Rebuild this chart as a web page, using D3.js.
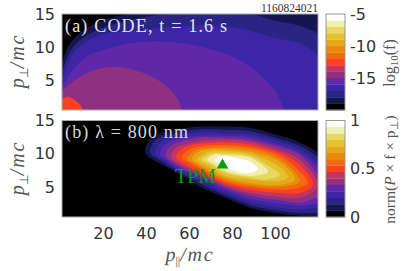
<!DOCTYPE html>
<html lang="en">
<head>
<meta charset="utf-8">
<script src="https://d3js.org/d3.v7.min.js"></script>
<style>
  html, body { margin: 0; padding: 0; background: #fff; overflow: hidden; }
  .tick text { font-family: "DejaVu Sans", sans-serif; font-size: 16px; fill: #333; }
  .lab { font-family: "Liberation Serif", serif; fill: #555; }
</style>
</head>
<body>
<svg id="fig" width="415" height="271"></svg>
<script>
// colour of each contour band, lowest band first
var bandColors = ["#000000", "#15154f", "#2a2585", "#3d25a8", "#5e28a8", "#8f3080", "#c23560",
  "#ff4020", "#f06a10", "#e88a0a", "#e5a818", "#e5c030", "#e6d860", "#f0eeb0", "#ffffff"];

var xTicks = [20, 40, 60, 80, 100];
var yTicks = [5, 10, 15];
var logTicks = [-15, -10, -5];
var normTicks = [0, 0.5, 1];

var stampText = "1160824021";
var titleA = "(a) CODE, t = 1.6 s";
var titleB = "(b) λ = 800 nm";
var tpmPoint = [75.6, 8.3];

// panel (a): contour lines [p_par, p_perp], each runs left edge -> right/bottom
var codeBands = [1, 2, 3, 4, 5, 7];
var codeLines = [
  [[1,7.6],[4.7,10.6],[12.6,12.9],[23.3,14.4],[31.2,15],[34.9,15.6],[122,15.6]],
  [[1,6.2],[6.1,10],[15.4,12.3],[26.6,13.6],[38.7,14.5],[49.8,15],[65.2,15.2],[83.8,15.2],[91.7,14.8],[98.6,14.1],[110.7,13.3],[118.6,12.3],[121.9,11.8]],
  [[1,5],[7,9.4],[17.7,11.7],[36.3,12.6],[59.6,13.2],[67.5,13.3],[82.8,12.9],[98.6,11.5],[114,10.3],[120,8.5],[121.9,7.7]],
  [[1,3.8],[5.6,6.4],[13.1,8.7],[21,9.6],[31.7,10.5],[44.2,10.9],[58.2,10.5],[67.5,9.9],[81.4,8.4],[92.1,6.1],[100,3.4],[104.2,0.5],[104.7,-0.1]],
  [[1,3.4],[7,5],[14.9,6.4],[25.6,7],[36.3,6.4],[47.5,4.6],[54.5,2.3],[56.8,0.5],[57.3,-0.1]],
  [[1,2.2],[3.8,2.5],[7,2],[9.4,1.3],[10.8,0.5],[11.2,0]]
];

// panel (b): closed contour outlines, outermost first, same order as bandColors[1..14]
var tpmLines = [
  [[39.6,10.4],[40.6,11.6],[43.3,12.6],[53.5,13.6],[65.2,14.1],[76.8,14.1],[88.4,13.9],[102.3,12.7],[111.6,11.7],[120,10.1],[126,8],[126,0.5],[120,0.5],[111.6,0.7],[102.3,1],[88.4,1.9],[76.8,3.4],[65.2,5],[53.5,7.3],[43.3,9.1],[40.6,9.7]],
  [[41.9,10.1],[43,11.4],[46,12.4],[53.5,13.1],[65.2,13.7],[76.8,13.6],[88.4,13.4],[102.3,12.2],[111.6,11.2],[120,9.4],[126,7],[126,0.9],[120,1.1],[111.6,1.1],[102.3,1.4],[88.4,2.3],[76.8,3.8],[65.2,5.5],[53.5,7.6],[46,9.1]],
  [[44.2,10],[45.5,11.2],[48,12],[53.5,12.6],[65.2,13.2],[76.8,13.1],[88.4,12.9],[102.3,11.8],[111.6,10.6],[120,8.6],[126,6],[126,1.5],[120,1.9],[111.6,1.6],[102.3,1.9],[88.4,2.8],[76.8,4.2],[65.2,5.9],[53.5,7.9],[48,9.1]],
  [[46.6,9.8],[48,11],[50,11.6],[53.5,12.1],[65.2,12.7],[76.8,12.7],[88.4,12.5],[102.3,11.3],[111.6,10.1],[120,7.9],[126,5.5],[126,2.2],[120,2.5],[111.6,2.2],[102.3,2.5],[88.4,3.2],[76.8,4.6],[65.2,6.4],[53.5,8.2],[50,9]],
  [[49.3,9.7],[50.5,10.8],[53.5,11.5],[65.2,12.4],[76.8,12.4],[88.4,12.1],[102.3,11],[111.6,9.8],[120,6.8],[124,4.5],[123,3],[120,3.4],[111.6,2.6],[102.3,3],[88.4,3.7],[76.8,4.9],[65.2,6.7],[53.5,8.5]],
  [[51.7,9.5],[53.5,10.8],[58,11.4],[65.2,11.9],[76.8,12.1],[88.4,11.8],[102.3,10.5],[111.6,9.1],[120,5.2],[111.6,3.4],[102.3,3.5],[88.4,4.1],[76.8,5.2],[65.2,7],[53.5,8.8]],
  [[54,9.5],[58,11],[65.2,11.5],[76.8,11.7],[88.4,11.4],[102.3,10.1],[111.6,8.3],[117.7,5.3],[111.6,4.1],[102.3,4.1],[88.4,4.6],[76.8,5.5],[65.2,7.3],[58,8.4]],
  [[56.8,9.4],[60,10.6],[65.2,11.1],[76.8,11.3],[88.4,11],[102.3,9.7],[111.6,7.3],[115.4,5.6],[111.6,4.9],[102.3,4.6],[88.4,5],[76.8,5.8],[65.2,7.7],[60,8.6]],
  [[59.1,9.2],[62,10.3],[65.2,10.7],[76.8,11],[88.4,10.7],[102.3,9.2],[111.6,5.9],[102.3,5],[88.4,5.3],[76.8,6.1],[65.2,8],[62,8.6]],
  [[61.4,9.2],[64,10.2],[70,10.7],[76.8,10.7],[88.4,10.3],[102.3,8.8],[109.3,6.1],[102.3,5.3],[88.4,5.6],[76.8,6.4],[65.2,8.3]],
  [[63.8,9.1],[70,10.4],[76.8,10.4],[88.4,10],[102.3,8],[106,6.5],[102.3,5.9],[88.4,6.1],[76.8,6.7],[68,8.3]],
  [[66.1,9.1],[71,10.1],[76.8,10.1],[88.4,9.7],[96,8.4],[102.3,6.8],[95,6.1],[88.4,6.4],[76.8,7.1],[70,8.4]],
  [[68.4,9.1],[72,9.9],[76.8,9.8],[88.4,9.4],[96.8,7.3],[88.4,6.7],[76.8,7.4],[72,8.4]],
  [[72.1,9.1],[75.8,9.7],[81.4,9.4],[88.4,8.8],[92.1,7.7],[87,7.1],[79.1,7.7],[74.5,8.5]]
];

var svg = d3.select("#fig");

var x = d3.scaleLinear().domain([1, 120]).range([62, 318]);
var yA = d3.scaleLinear().domain([0.5, 15]).range([110, 14]);
var yB = d3.scaleLinear().domain([0.5, 15]).range([217, 120.5]);

function drawFrame(y, id) {
  svg.append("clipPath").attr("id", id)
    .append("rect")
    .attr("x", x.range()[0]).attr("y", y.range()[1])
    .attr("width", x.range()[1] - x.range()[0])
    .attr("height", y.range()[0] - y.range()[1]);

  var g = svg.append("g").attr("clip-path", "url(#" + id + ")");
  g.append("rect")
    .attr("x", x.range()[0]).attr("y", y.range()[1])
    .attr("width", x.range()[1] - x.range()[0])
    .attr("height", y.range()[0] - y.range()[1])
    .attr("fill", bandColors[0]);
  return g;
}

// panel a
var gA = drawFrame(yA, "clipA");
var openLine = d3.line().x(function(d) { return x(d[0]); }).y(function(d) { return yA(d[1]); })
  .curve(d3.curveCatmullRom.alpha(0.5));

gA.selectAll("path").data(codeLines).enter().append("path")
  .attr("d", function(d) { return openLine(d) + "V" + (yA.range()[0] + 10) + "H" + x.range()[0] + "Z"; })
  .attr("fill", function(d, i) { return bandColors[codeBands[i]]; });

// panel b
var gB = drawFrame(yB, "clipB");
var closedLine = d3.line().x(function(d) { return x(d[0]); }).y(function(d) { return yB(d[1]); })
  .curve(d3.curveCatmullRomClosed.alpha(0.5));

gB.selectAll("path").data(tpmLines).enter().append("path")
  .attr("d", closedLine)
  .attr("fill", function(d, i) { return bandColors[i + 1]; });

// panel frames
[yA, yB].forEach(function(y) {
  svg.append("rect")
    .attr("x", x.range()[0]).attr("y", y.range()[1])
    .attr("width", x.range()[1] - x.range()[0])
    .attr("height", y.range()[0] - y.range()[1])
    .attr("fill", "none").attr("stroke", "#aaa").attr("stroke-width", 1);
});

// axes
function addAxis(axis, tx, ty) {
  var g = svg.append("g").attr("transform", "translate(" + tx + "," + ty + ")").call(axis);
  g.select(".domain").remove();
  g.selectAll("line").remove();
  return g;
}
addAxis(d3.axisLeft(yA).tickValues(yTicks).tickSize(0).tickPadding(7), 62, 0);
addAxis(d3.axisLeft(yB).tickValues(yTicks).tickSize(0).tickPadding(7), 62, 0);
addAxis(d3.axisBottom(x).tickValues(xTicks).tickSize(0).tickPadding(10.5), 0, 217);

// colour bars
var barX = 326, barW = 19;
function drawBar(y0, y1, domain, ticks) {
  var bands = d3.scaleBand().domain(d3.range(bandColors.length)).range([y0, y1]);
  svg.append("g").selectAll("rect").data(bandColors).enter().append("rect")
    .attr("x", barX).attr("y", function(d, i) { return bands(i); })
    .attr("width", barW).attr("height", bands.bandwidth() + 0.3)
    .attr("fill", function(d) { return d; });
  svg.append("rect").attr("x", barX).attr("y", y1).attr("width", barW).attr("height", y0 - y1)
    .attr("fill", "none").attr("stroke", "#999").attr("stroke-width", 1);
  var s = d3.scaleLinear().domain(domain).range([y0, y1]);
  addAxis(d3.axisRight(s).tickValues(ticks).tickSize(0).tickPadding(5).tickFormat(String), barX + barW, 0);
}
drawBar(110, 14, [-20, -5], logTicks);
drawBar(217, 120.5, [0, 1], normTicks);

// text inside the panels
svg.append("text").attr("class", "lab").attr("x", 318).attr("y", 12)
  .attr("text-anchor", "end").attr("font-size", 11.5).style("fill", "#333").text(stampText);
svg.append("text").attr("class", "lab").attr("x", 65).attr("y", 32)
  .attr("font-size", 18).attr("textLength", 162).attr("lengthAdjust", "spacing")
  .style("fill", "#e4e4e4").text(titleA);
svg.append("text").attr("class", "lab").attr("x", 65).attr("y", 138)
  .attr("font-size", 18).attr("textLength", 123).attr("lengthAdjust", "spacing")
  .style("fill", "#d8d8d8").text(titleB);

svg.append("text").attr("class", "lab").attr("x", 175).attr("y", 183)
  .attr("font-size", 20).style("fill", "#00a000").text("TPM");
svg.append("path")
  .attr("d", d3.symbol().type(d3.symbolTriangle).size(58))
  .attr("transform", "translate(" + x(tpmPoint[0]) + "," + yB(tpmPoint[1]) + ")")
  .attr("fill", "#00a000");

// axis titles
function momentumLabel(g, sub) {
  g.attr("class", "lab").attr("font-size", 20).attr("text-anchor", "middle");
  g.append("tspan").attr("font-style", "italic").text("p");
  g.append("tspan").attr("font-size", 12).attr("dy", 4).text(sub);
  g.append("tspan").attr("dy", -4).attr("font-style", "italic").attr("letter-spacing", 1.8).text("/mc");
}
momentumLabel(svg.append("text").attr("transform", "translate(24,61) rotate(-90)"), "⊥");
momentumLabel(svg.append("text").attr("transform", "translate(24,168) rotate(-90)"), "⊥");
// the tiny rotation keeps the thin bars of the subscript from colour fringing
momentumLabel(svg.append("text").attr("transform", "translate(190,261) rotate(0.05)"), "||");

var logLab = svg.append("text").attr("class", "lab").attr("font-size", 16).attr("text-anchor", "middle")
  .attr("transform", "translate(395,63) rotate(-90)");
logLab.append("tspan").text("log");
logLab.append("tspan").attr("font-size", 11).attr("dy", 3).text("10");
logLab.append("tspan").attr("dy", -3).text("(f)");

var normLab = svg.append("text").attr("class", "lab").attr("font-size", 15.5).attr("text-anchor", "middle")
  .attr("transform", "translate(395,169.5) rotate(-90)");
normLab.append("tspan").text("norm(");
normLab.append("tspan").attr("font-style", "italic").text("P");
normLab.append("tspan").text(" × f × p");
normLab.append("tspan").attr("font-size", 11).attr("dy", 3).text("⊥");
normLab.append("tspan").attr("dy", -3).text(")");
</script>
</body>
</html>
